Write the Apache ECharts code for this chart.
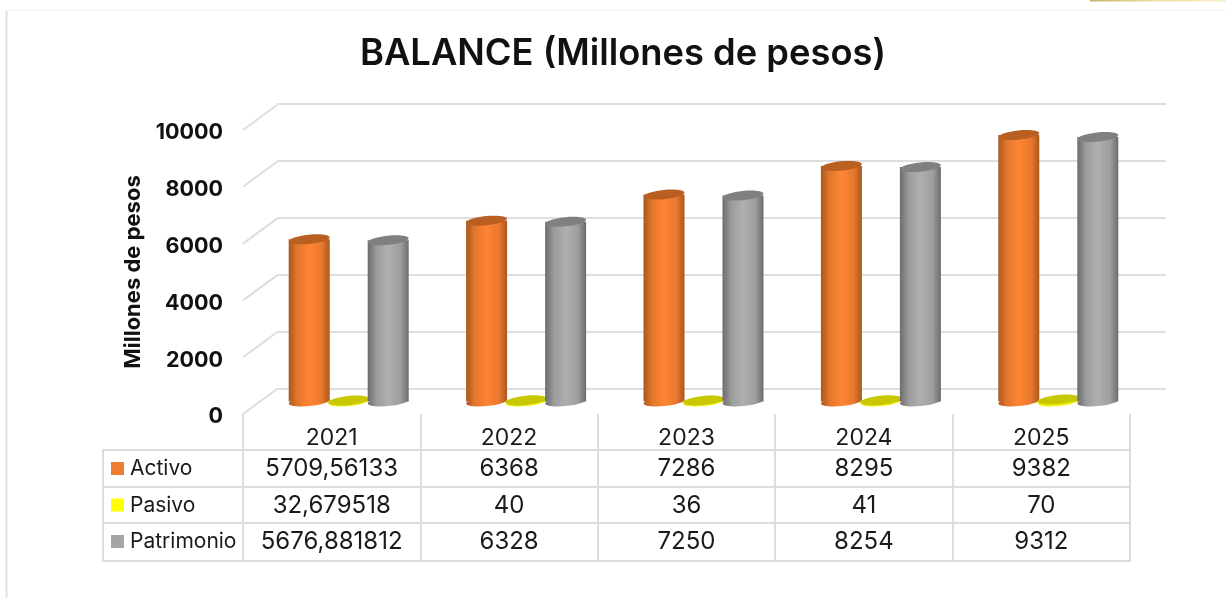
<!DOCTYPE html>
<html><head><meta charset="utf-8">
<style>html,body{margin:0;padding:0;background:#fff}#c{width:1226px;height:598px}</style>
<script src="https://cdn.jsdelivr.net/npm/echarts@6/dist/echarts.min.js"></script>
</head><body><div id="c"></div>
<script>
const categories = ['2021','2022','2023','2024','2025'];
const activo = [5709.56133,6368,7286,8295,9382];
const pasivo = [32.679518,40,36,41,70];
const patrimonio = [5676.881812,6328,7250,8254,9312];
const seriesNames = ['Activo','Pasivo','Patrimonio'];
const yTicks = [0,2000,4000,6000,8000,10000];
const titleText = 'BALANCE (Millones de pesos)';
const yName = 'Millones de pesos';

const FONT = 'Inter';
const DEPTH_X = 34, DEPTH_Y = 25;
const GRID = {left:243, top:130, width:887, height:284};
const ROW_Y = [469,505.5,542];
const ROW_LINES = [450,487,523,561];
const R = 20.5;

const chart = echarts.init(document.getElementById('c'),null,{renderer:'canvas'});

function cylinder(offset, side, cap, bottom){
  return function(params, api){
    const i = api.value(0), v = api.value(1);
    const band = api.size([1,0])[0];
    const base = api.coord([i,0]), top = api.coord([i,v]);
    const cx = base[0] + DEPTH_X/2 + offset*band;
    const by = base[1] - DEPTH_Y/2, ty = top[1] - DEPTH_Y/2;
    const tilt = 0.1;
    const ell = (y, fill) => ({type:'ellipse', x:cx, y:y, rotation:tilt,
      shape:{cx:0,cy:0,rx:R,ry:4.6}, style:{fill:fill}});
    const sideFill = {type:'linear',x:0,y:0,x2:1,y2:0,colorStops:side};
    return {type:'group', children:[
      ell(by, bottom || sideFill),
      {type:'rect', shape:{x:cx-R,y:ty,width:R*2,height:by-ty}, style:{fill:sideFill}},
      ell(ty, cap)
    ]};
  };
}
const orangeStops=[{offset:0,color:'#a9571c'},{offset:.2,color:'#e0762c'},{offset:.5,color:'#ff8533'},{offset:.8,color:'#e8792e'},{offset:1,color:'#a9571c'}];
const grayStops=[{offset:0,color:'#6c6c6c'},{offset:.22,color:'#9c9c9c'},{offset:.5,color:'#afafaf'},{offset:.8,color:'#9e9e9e'},{offset:1,color:'#6c6c6c'}];
const yellowStops=[{offset:0,color:'#c8c800'},{offset:1,color:'#c8c800'}];
const OFFS = 39.5/177.4;

function toData(arr){ return arr.map((v,i)=>[i,v]); }
function fmt(v){ return String(v).replace('.',','); }

function tableCells(arr, row){
  return {type:'custom', xAxisIndex:0, yAxisIndex:0, z:5, silent:true,
    data:toData(arr),
    renderItem:(p,api)=>({type:'text', style:{
      text:fmt(api.value(1)), x:api.coord([api.value(0),0])[0], y:ROW_Y[row],
      align:'center', verticalAlign:'middle', fontFamily:FONT, fontSize:24, fill:'#1a1a1a'}})
  };
}

const lineCol = '#dcdcdc';
const graphics = [
  {type:'line',shape:{x1:6.5,y1:10,x2:6.5,y2:598},style:{stroke:'#e2e2e2',lineWidth:2}},
  {type:'line',shape:{x1:6,y1:10.5,x2:1226,y2:10.5},style:{stroke:'#f2f2f2',lineWidth:1}},
  {type:'rect',shape:{x:1090,y:0,width:136,height:1.5},style:{fill:{type:'linear',x:0,y:0,x2:1,y2:0,colorStops:[{offset:0,color:'#c9b36a'},{offset:.5,color:'#efe0a6'},{offset:1,color:'#f8efc8'}]}}},
  {type:'polyline',shape:{points:[[103,561],[103,450],[243,450]]},style:{stroke:lineCol,lineWidth:2,fill:null}},
];
ROW_LINES.forEach(y=>graphics.push({type:'line',shape:{x1:102,y1:y,x2:1131,y2:y},style:{stroke:lineCol,lineWidth:2}}));
const swatches=['#ed7d31','#ffff00','#a5a5a5'];
seriesNames.forEach((n,i)=>{
  graphics.push({type:'rect',shape:{x:111,y:ROW_Y[i]-7,width:13,height:13},style:{fill:swatches[i]}});
  graphics.push({type:'text',style:{text:n,x:130,y:ROW_Y[i],verticalAlign:'middle',fontFamily:FONT,fontSize:21,fill:'#1a1a1a'}});
});

chart.setOption({
  animation:false,
  backgroundColor:'#fff',
  title:{text:titleText,left:618,top:31,textAlign:'center',
    textStyle:{fontFamily:FONT,fontSize:36.3,fontWeight:600,color:'#111'}},
  graphic:{elements:graphics.map(g=>Object.assign({silent:true,z:1},g))},
  grid:[GRID,{left:GRID.left+DEPTH_X,top:GRID.top-DEPTH_Y-1,width:889,height:285}],
  xAxis:[
    {type:'category',gridIndex:0,data:categories,
      axisLine:{show:false},
      axisTick:{show:true,length:147,lineStyle:{color:lineCol,width:2}},
      axisLabel:{fontFamily:FONT,fontSize:23,color:'#1a1a1a',margin:13},
      splitLine:{show:false}},
    {type:'category',gridIndex:1,data:categories,axisLine:{show:false},axisTick:{show:false},axisLabel:{show:false},splitLine:{show:false}}
  ],
  yAxis:[
    {type:'value',gridIndex:0,min:0,max:10000,interval:2000,
      name:yName,nameLocation:'middle',nameGap:87,nameRotate:90,
      nameTextStyle:{fontFamily:FONT,fontSize:22,fontWeight:700,color:'#111'},
      axisLine:{show:false},axisTick:{show:false},splitLine:{show:false},
      axisLabel:{fontFamily:FONT,fontSize:21.5,fontWeight:700,color:'#111',margin:20,verticalAlign:'top',lineHeight:6,formatter:v=>String(v)}},
    {type:'value',gridIndex:1,min:0,max:10000,interval:2000,
      axisLine:{show:false},axisTick:{show:false},axisLabel:{show:false},
      splitLine:{show:true,lineStyle:{color:'#dedede',width:2}}}
  ],
  series:[
    {type:'custom',name:'depth',xAxisIndex:0,yAxisIndex:0,silent:true,z:1,
      data:yTicks.map(v=>[v]),
      renderItem:(p,api)=>{
        const pt=api.coord([0,api.value(0)]); const x=GRID.left;
        return {type:'line',shape:{x1:x,y1:pt[1],x2:x+DEPTH_X,y2:pt[1]-DEPTH_Y},style:{stroke:'#dedede',lineWidth:2}};
      },encode:{y:0}},
    {type:'custom',name:seriesNames[0],xAxisIndex:0,yAxisIndex:0,z:3,data:toData(activo),
      renderItem:cylinder(-OFFS,orangeStops,'#b95f22')},
    {type:'custom',name:seriesNames[1],xAxisIndex:0,yAxisIndex:0,z:3,data:toData(pasivo),
      renderItem:cylinder(0,yellowStops,'#c8c800','#f2f200')},
    {type:'custom',name:seriesNames[2],xAxisIndex:0,yAxisIndex:0,z:3,data:toData(patrimonio),
      renderItem:cylinder(OFFS,grayStops,'#808080')},
    tableCells(activo,0),tableCells(pasivo,1),tableCells(patrimonio,2)
  ]
});
</script></body></html>
